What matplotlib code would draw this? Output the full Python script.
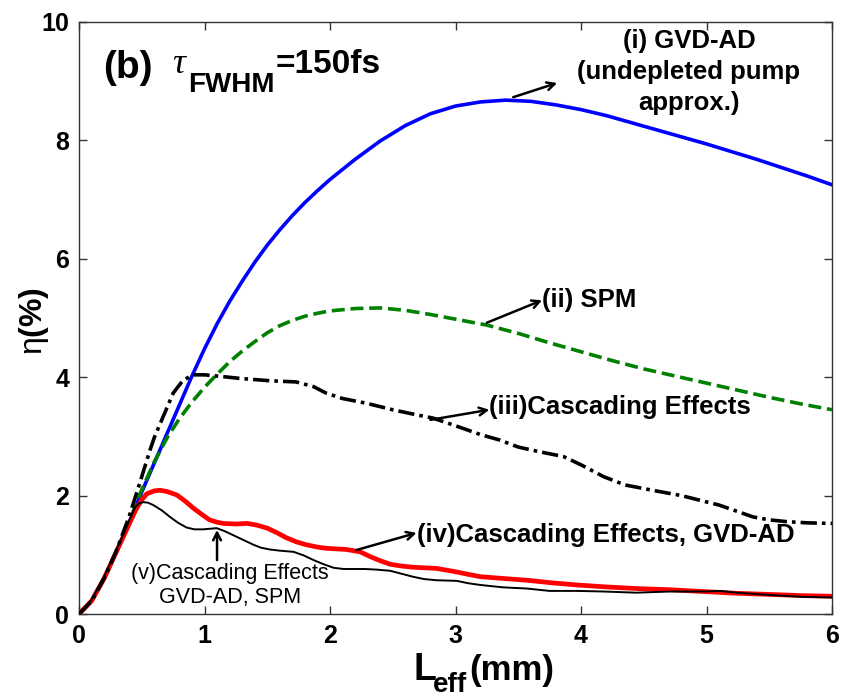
import matplotlib
matplotlib.use("Agg")
import matplotlib.pyplot as plt

plt.rcParams['font.family'] = ['Liberation Sans', 'DejaVu Sans']
plt.rcParams['mathtext.fontset'] = 'custom'
plt.rcParams['mathtext.rm'] = 'Liberation Sans'
plt.rcParams['mathtext.it'] = 'Liberation Serif:italic'
plt.rcParams['mathtext.bf'] = 'Liberation Sans:bold'

# ---- conversion efficiency eta (%) vs effective length L_eff (mm) ----
# (i) GVD-AD, undepleted pump approximation
x_gvd = [0, 0.1, 0.2, 0.3, 0.4, 0.5, 0.6, 0.7, 0.8, 0.9, 1.0, 1.1, 1.2, 1.3, 1.4,
         1.5, 1.6, 1.7, 1.8, 1.9, 2.0, 2.2, 2.4, 2.6, 2.8, 3.0, 3.2, 3.4, 3.6, 3.8,
         4.0, 4.2, 4.4, 4.6, 4.8, 5.0, 5.2, 5.4, 5.6, 5.8, 6.0]
y_gvd = [0, 0.22, 0.6, 1.06, 1.55, 2.06, 2.55, 3.04, 3.53, 4.02, 4.48, 4.9, 5.28,
         5.62, 5.94, 6.23, 6.49, 6.73, 6.95, 7.15, 7.34, 7.68, 7.99, 8.25, 8.45, 8.58,
         8.65, 8.68, 8.66, 8.6, 8.52, 8.42, 8.3, 8.18, 8.06, 7.94, 7.81, 7.68, 7.54,
         7.4, 7.25]

# (ii) SPM
x_spm = [0, 0.1, 0.2, 0.3, 0.4, 0.45, 0.5, 0.6, 0.7, 0.8, 0.9, 1.0, 1.1, 1.2, 1.3,
         1.4, 1.5, 1.6, 1.7, 1.8, 1.9, 2.0, 2.2, 2.4, 2.6, 2.8, 3.0, 3.25, 3.5, 3.75,
         4.0, 4.25, 4.5, 4.75, 5.0, 5.25, 5.5, 5.75, 6.0]
y_spm = [0, 0.22, 0.6, 1.06, 1.55, 1.83, 2.1, 2.57, 2.97, 3.3, 3.58, 3.83, 4.05,
         4.26, 4.44, 4.6, 4.75, 4.87, 4.96, 5.03, 5.08, 5.12, 5.16, 5.17, 5.13, 5.06,
         4.98, 4.88, 4.74, 4.58, 4.43, 4.28, 4.14, 4.02, 3.9, 3.78, 3.66, 3.55, 3.45]

# (iii) cascading effects
x_casc = [0, 0.1, 0.2, 0.3, 0.4, 0.46, 0.5, 0.566, 0.6, 0.67, 0.75, 0.83, 0.91, 1.0,
          1.1, 1.28, 1.52, 1.73, 1.87, 1.97, 2.1, 2.29, 2.5, 2.7, 2.82, 3.0, 3.2,
          3.35, 3.5, 3.67, 3.86, 4.0, 4.18, 4.35, 4.57, 4.8, 5.1, 5.25, 5.37, 5.5,
          5.64, 5.8, 6.0]
y_casc = [0, 0.22, 0.6, 1.08, 1.65, 2.05, 2.32, 2.77, 2.98, 3.33, 3.73, 3.95, 4.04,
          4.04, 4.02, 3.98, 3.94, 3.92, 3.84, 3.73, 3.64, 3.56, 3.45, 3.36, 3.31,
          3.18, 3.03, 2.94, 2.82, 2.74, 2.66, 2.52, 2.32, 2.18, 2.09, 2.0, 1.84,
          1.73, 1.64, 1.59, 1.56, 1.54, 1.53]

# (iv) cascading effects + GVD-AD
x_casc_gvd = [0, 0.1, 0.2, 0.3, 0.4, 0.45, 0.5, 0.54, 0.6, 0.645, 0.7, 0.78, 0.85,
              0.91, 0.98, 1.04, 1.1, 1.15, 1.25, 1.34, 1.42, 1.5, 1.58, 1.65, 1.73,
              1.81, 1.9, 1.97, 2.05, 2.13, 2.24, 2.32, 2.4, 2.48, 2.57, 2.66, 2.85,
              3.01, 3.1, 3.2, 3.38, 3.57, 3.75, 3.97, 4.18, 4.44, 4.71, 4.97, 5.24,
              5.51, 5.77, 6.0]
y_casc_gvd = [0, 0.22, 0.6, 1.06, 1.52, 1.75, 1.93, 2.03, 2.08, 2.09, 2.07, 2.01,
              1.9, 1.79, 1.68, 1.59, 1.55, 1.53, 1.52, 1.53, 1.5, 1.45, 1.37, 1.29,
              1.22, 1.17, 1.13, 1.11, 1.1, 1.09, 1.05, 0.97, 0.9, 0.84, 0.81, 0.79,
              0.77, 0.71, 0.67, 0.63, 0.6, 0.57, 0.53, 0.49, 0.46, 0.43, 0.41, 0.38,
              0.35, 0.33, 0.31, 0.3]

# (v) cascading effects + GVD-AD + SPM
x_all = [0, 0.1, 0.2, 0.3, 0.327, 0.4, 0.446, 0.48, 0.512, 0.55, 0.592, 0.66, 0.725,
         0.79, 0.858, 0.92, 0.99, 1.097, 1.16, 1.23, 1.31, 1.39, 1.45, 1.52, 1.6,
         1.71, 1.79, 1.87, 1.95, 2.03, 2.11, 2.19, 2.28, 2.37, 2.48, 2.57, 2.66,
         2.75, 2.85, 3.01, 3.1, 3.2, 3.38, 3.57, 3.75, 3.97, 4.18, 4.44, 4.71, 4.97,
         5.11, 5.24, 5.51, 5.77, 6.0]
y_all = [0, 0.24, 0.63, 1.1, 1.22, 1.58, 1.8, 1.87, 1.89, 1.88, 1.84, 1.75, 1.64,
         1.54, 1.46, 1.43, 1.43, 1.45, 1.4, 1.33, 1.25, 1.17, 1.12, 1.09, 1.07,
         1.05, 0.99, 0.91, 0.84, 0.78, 0.76, 0.76, 0.76, 0.75, 0.73, 0.68, 0.63,
         0.59, 0.57, 0.56, 0.52, 0.49, 0.45, 0.43, 0.39, 0.39, 0.38, 0.36, 0.38,
         0.38, 0.39, 0.36, 0.32, 0.29, 0.28]

x_ticks = [0, 1, 2, 3, 4, 5, 6]
y_ticks = [0, 2, 4, 6, 8, 10]

W, H = 844, 699
fig = plt.figure(figsize=(W / 100, H / 100), dpi=100)
ax = fig.add_axes([79 / W, 1 - 614 / H, (832 - 79) / W, (614 - 22) / H])


def fpos(px, py):
    return px / W, 1 - py / H


common = dict(solid_joinstyle='round', solid_capstyle='round',
              dash_joinstyle='round')
ax.plot(x_gvd, y_gvd, color='#0000ff', lw=2.6, zorder=3, **common)
ax.plot(x_spm, y_spm, color='#008000', lw=2.6, dashes=(3.6, 1.6), zorder=3, **common)
ax.plot(x_casc, y_casc, color='black', lw=2.6, dashes=(4.5, 1.4, 1.0, 1.4),
        zorder=4, **common)
ax.plot(x_casc_gvd, y_casc_gvd, color='#ff0000', lw=3.4, zorder=3, **common)
ax.plot(x_all, y_all, color='black', lw=1.4, zorder=5, **common)

ax.set_xlim(0, 6)
ax.set_ylim(0, 10)
ax.set_xticks(x_ticks)
ax.set_yticks(y_ticks)
ax.tick_params(direction='in', length=6, width=1, top=True, right=True,
               labelsize=18, pad=7, color='#333333')
for lab in ax.get_xticklabels() + ax.get_yticklabels():
    lab.set_fontweight('bold')
for sp in ax.spines.values():
    sp.set_color('#333333')
    sp.set_linewidth(1.0)

# axis labels
fig.text(*fpos(414, 680), 'L', fontsize=27, fontweight='bold', ha='left', va='baseline')
fig.text(*fpos(433, 698), 'eff', fontsize=20, fontweight='bold', ha='left', va='bottom')
fig.text(*fpos(469, 680), '(mm)', fontsize=25, fontweight='bold', ha='left', va='baseline')
fig.text(*fpos(34, 321), r'$\mathrm{\eta}$(%)', fontsize=23, fontweight='bold',
         rotation=90, ha='center', va='center')

# panel label
fig.text(*fpos(103, 68), '(b)', fontsize=28, fontweight='bold', ha='left', va='center')
fig.text(*fpos(172, 73), r'$\tau$', fontsize=26, ha='left', va='baseline')
fig.text(*fpos(188, 92), 'FWHM', fontsize=20, fontweight='bold', ha='left', va='baseline')
fig.text(*fpos(276, 73), '=150fs', fontsize=24, fontweight='bold', ha='left', va='baseline')

arrow = dict(arrowstyle='->,head_length=0.55,head_width=0.28', color='black', lw=1.8,
             shrinkA=0, shrinkB=0)

ax.annotate('', xy=(3.81, 8.97), xytext=(3.46, 8.73), arrowprops=arrow)
ax.text(4.86, 9.16, '(i) GVD-AD\n(undepleted pump\napprox.)', fontsize=18.5,
        fontweight='bold', ha='center', va='center', linespacing=1.36)

ax.annotate('', xy=(3.69, 5.30), xytext=(3.25, 4.92), arrowprops=arrow)
ax.text(3.69, 5.30, '(ii) SPM', fontsize=18.5, fontweight='bold', ha='left', va='center')

ax.annotate('', xy=(3.27, 3.45), xytext=(2.80, 3.28), arrowprops=arrow)
ax.text(3.27, 3.50, '(iii)Cascading Effects', fontsize=18.5, fontweight='bold',
        ha='left', va='center')

ax.annotate('', xy=(2.69, 1.37), xytext=(2.21, 1.08), arrowprops=arrow)
ax.text(2.69, 1.34, '(iv)Cascading Effects, GVD-AD', fontsize=18.5, fontweight='bold',
        ha='left', va='center')

ax.annotate('', xy=(1.1, 1.42), xytext=(1.1, 0.91), arrowprops=arrow)
ax.text(1.2, 0.48, '(v)Cascading Effects\nGVD-AD, SPM', fontsize=15.5,
        ha='center', va='center', linespacing=1.2)

fig.savefig('out.png', dpi=100)
